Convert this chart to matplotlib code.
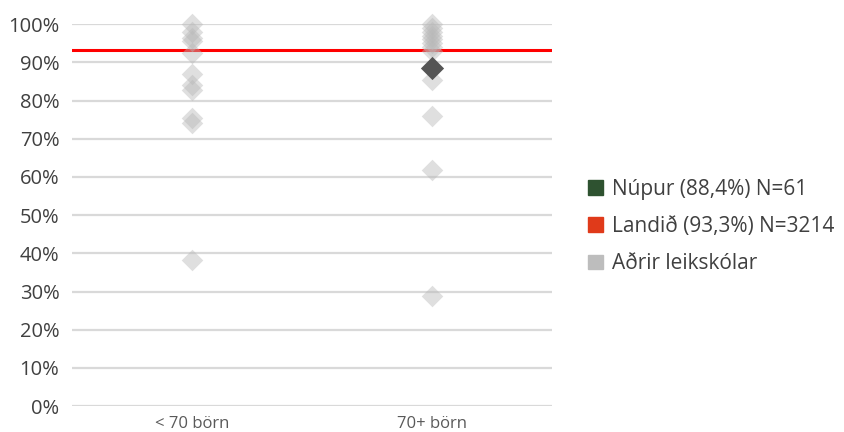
import matplotlib.pyplot as plt
from matplotlib import patches

categories = ['< 70 börn', '70+ börn']
# other kindergartens, value per group (fraction)
others_small = [1.00, 0.98, 0.963, 0.955, 0.925, 0.87, 0.84, 0.828, 0.755, 0.74, 0.382]
others_large = [1.00, 0.99, 0.98, 0.97, 0.96, 0.95, 0.94, 0.93, 0.853, 0.76, 0.618, 0.288]
nupur_group = 1
nupur_value = 0.884
landid_value = 0.933

legend_labels = ['Núpur (88,4%) N=61', 'Landið (93,3%) N=3214', 'Aðrir leikskólar']

plt.rcParams['font.family'] = ['Open Sans', 'DejaVu Sans']

fig = plt.figure(figsize=(8.45, 4.32), dpi=100)
ax = fig.add_axes([0.085, 0.060, 0.568, 0.884])

ax.set_xlim(-0.5, 1.5)
ax.set_ylim(0, 1.0)

for i, vals in enumerate([others_small, others_large]):
    ax.scatter([i] * len(vals), vals, marker='D', s=120, color='#b8b8b8',
               alpha=0.45, linewidths=0, zorder=3, clip_on=False)

ax.scatter([nupur_group], [nupur_value], marker='D', s=140, color='#555555',
           linewidths=0, zorder=4, clip_on=False)

ax.axhline(landid_value, color='#ff0000', linewidth=2.2, zorder=2)

ax.set_yticks([i / 10 for i in range(11)])
ax.set_yticklabels([f'{i * 10}%' for i in range(11)], fontsize=14.5, color='#404040')
ax.set_xticks([0, 1])
ax.set_xticklabels(categories, fontsize=12, color='#595959')
ax.tick_params(axis='x', length=0, pad=7)
ax.tick_params(axis='y', length=0, pad=9)
ax.grid(axis='y', color='#d9d9d9', linewidth=1.6, zorder=0)
ax.set_axisbelow(True)
for s in ax.spines.values():
    s.set_visible(False)

handles = [patches.Patch(color='#2e5230', label=legend_labels[0]),
           patches.Patch(color='#e03a1a', label=legend_labels[1]),
           patches.Patch(color='#bdbdbd', label=legend_labels[2])]
fig.legend(handles=handles, loc='center left', bbox_to_anchor=(0.674, 0.476),
           frameon=False, fontsize=15, handlelength=0.7, handleheight=0.7,
           handletextpad=0.45, labelspacing=0.78, labelcolor='#404040')

fig.savefig('out.png', dpi=100)
